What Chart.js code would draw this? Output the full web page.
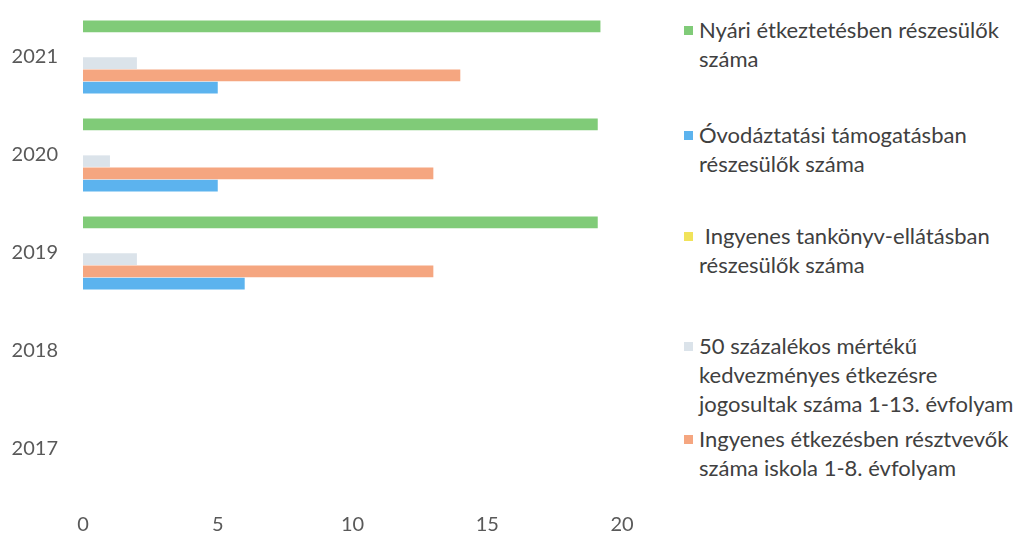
<!DOCTYPE html>
<html lang="hu">
<head>
<meta charset="utf-8">
<script src="https://cdn.jsdelivr.net/npm/chart.js@4.4.0/dist/chart.umd.min.js"></script>
<style>
    body { margin: 0; background: #fff; font-family: Lato, sans-serif; }
    #wrap { position: absolute; left: 0; top: 0; width: 650px; height: 537px; }
    #legend { position: absolute; left: 684px; top: 0; color: #404040; font-size: 22px; line-height: 29px; }
    .item { position: absolute; left: 0; white-space: nowrap; }
    .item .txt { position: absolute; left: 15px; top: 0; }
    .mark { position: absolute; left: 0; width: 9px; height: 9px; top: 11px; }
</style>
</head>
<body>
<div id="wrap"><canvas id="chart"></canvas></div>
<div id="legend"></div>

<script>
// Categories (top to bottom)
const years = ['2021', '2020', '2019', '2018', '2017'];

// Series values (counts)
const nyari = [19.2, 19.1, 19.1, null, null];
const spacer = [null, null, null, null, null];
const tankonyv = [null, null, null, null, null];
const kedvezmeny50 = [2, 1, 2, null, null];
const ingyenesEtkezes = [14, 13, 13, null, null];
const ovodaztatasi = [5, 5, 6, null, null];

const xTicks = [0, 5, 10, 15, 20];

const colors = {
    green: '#80cb78',
    blue: '#5cb3ee',
    yellow: '#f1e35a',
    gray: '#dbe3ea',
    orange: '#f5a680'
};

// Legend (HTML, keeps the original line breaks)
const legendItems = [
    { color: colors.green, top: 15, lines: ['Nyári étkeztetésben részesülők', 'száma'] },
    { color: colors.blue, top: 120, lines: ['Óvodáztatási támogatásban', 'részesülők száma'] },
    { color: colors.yellow, top: 221, lines: ['\u00a0Ingyenes tankönyv-ellátásban', 'részesülők száma'] },
    { color: colors.gray, top: 331, lines: ['50 százalékos mértékű', 'kedvezményes étkezésre', 'jogosultak száma 1-13. évfolyam'] },
    { color: colors.orange, top: 424, lines: ['Ingyenes étkezésben résztvevők', 'száma iskola 1-8. évfolyam'] }
];

const legend = document.getElementById('legend');
legendItems.forEach(it => {
    legend.innerHTML += `<div class="item" style="top:${it.top}px">
        <span class="mark" style="background:${it.color}"></span>
        <span class="txt">${it.lines.join('<br>')}</span></div>`;
});

const ctx = document.getElementById('chart').getContext('2d');
new Chart(ctx, {
    type: 'bar',
    data: {
        labels: years,
        datasets: [
            { label: 'Nyári étkeztetésben részesülők száma', data: nyari, backgroundColor: colors.green },
            { label: '', data: spacer, backgroundColor: 'rgba(0,0,0,0)' },
            { label: 'Ingyenes tankönyv-ellátásban részesülők száma', data: tankonyv, backgroundColor: colors.yellow },
            { label: '50 százalékos mértékű kedvezményes étkezésre jogosultak száma 1-13. évfolyam', data: kedvezmeny50, backgroundColor: colors.gray },
            { label: 'Ingyenes étkezésben résztvevők száma iskola 1-8. évfolyam', data: ingyenesEtkezes, backgroundColor: colors.orange },
            { label: 'Óvodáztatási támogatásban részesülők száma', data: ovodaztatasi, backgroundColor: colors.blue }
        ]
    },
    options: {
        indexAxis: 'y',
        responsive: true,
        maintainAspectRatio: false,
        animation: false,
        categoryPercentage: 0.75,
        barPercentage: 0.94,
        layout: { padding: { left: 0, top: 8, right: 28, bottom: 0 } },
        plugins: {
            legend: { display: false },
            tooltip: { enabled: false }
        },
        scales: {
            x: {
                min: 0,
                max: 20,
                afterBuildTicks: scale => { scale.ticks = xTicks.map(v => ({ value: v })); },
                afterFit: scale => { scale.height = 39; },
                grid: { display: false, drawTicks: false },
                border: { display: false },
                ticks: { padding: 15, color: '#595959', font: { family: 'Lato', size: 20 } }
            },
            y: {
                afterFit: scale => {
                    scale.width = 83;
                    scale.paddingTop = 0;
                    scale.paddingBottom = 0;
                },
                grid: { display: false, drawTicks: false },
                border: { display: false },
                ticks: { padding: 25, color: '#595959', font: { family: 'Lato', size: 20 } }
            }
        }
    }
});
</script>
</body>
</html>
